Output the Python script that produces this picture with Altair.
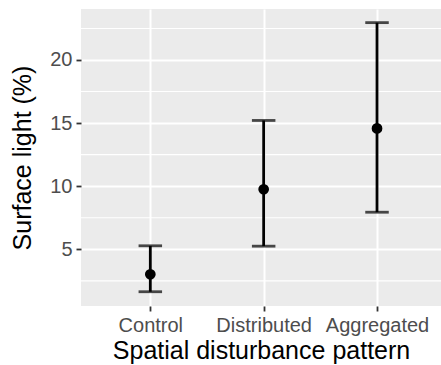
import altair as alt
import pandas as pd

categories = ["Control", "Distributed", "Aggregated"]
means = [3.02, 9.76, 14.58]
lowers = [1.64, 5.25, 7.94]
uppers = [5.28, 15.21, 22.96]
major_ticks = [5, 10, 15, 20]
minor_breaks = [2.5, 7.5, 12.5, 17.5, 22.5]

df = pd.DataFrame({"pattern": categories, "mean": means, "lo": lowers, "hi": uppers})
minor_df = pd.DataFrame({"y": minor_breaks})

y_scale = alt.Scale(domain=[0.51, 24.04], nice=False, zero=False)
x_scale = alt.Scale(type="point", padding=0.588, align=0.52)

x_enc = alt.X("pattern:N", sort=categories, scale=x_scale,
              title="Spatial disturbance pattern",
              axis=alt.Axis(labelAngle=0))

minor = alt.Chart(minor_df).mark_rule(color="white", strokeWidth=1.1).encode(
    y=alt.Y("y:Q", scale=y_scale),
    x=alt.value(0), x2=alt.value(360),
)

rules = alt.Chart(df).mark_rule(color="black", strokeWidth=2.8).encode(
    x=x_enc,
    y=alt.Y("lo:Q", scale=y_scale, title="Surface light (%)",
            axis=alt.Axis(values=major_ticks)),
    y2="hi:Q",
)

cap_lo = alt.Chart(df).mark_tick(color="black", thickness=2.8, size=23.5, orient="horizontal").encode(
    x=x_enc, y=alt.Y("lo:Q", scale=y_scale))
cap_hi = alt.Chart(df).mark_tick(color="black", thickness=2.8, size=23.5, orient="horizontal").encode(
    x=x_enc, y=alt.Y("hi:Q", scale=y_scale))

pts = alt.Chart(df).mark_circle(color="black", opacity=1, size=115).encode(
    x=x_enc, y=alt.Y("mean:Q", scale=y_scale))

chart = alt.layer(minor, rules, cap_lo, cap_hi, pts).properties(
    width=360, height=297,
    autosize=alt.AutoSizeParams(type="none"),
    padding={"left": 81, "top": 9, "right": 0, "bottom": 59},
    background="white",
).configure_view(
    fill="#EBEBEB", stroke=None
).configure_axis(
    grid=True, gridColor="white", gridWidth=2,
    domain=False,
    tickColor="#333333", tickSize=5, tickWidth=1.8,
    labelFont="Liberation Sans", labelFontSize=20, labelColor="#4D4D4D",
    labelPadding=4,
    titleFont="Liberation Sans", titleFontSize=25, titleFontWeight="normal", titleColor="black",
).configure_axisX(
    titlePadding=3,
).configure_axisY(
    titlePadding=14,
)

chart.save("out.html", embed_options={"renderer": "svg", "actions": False})
